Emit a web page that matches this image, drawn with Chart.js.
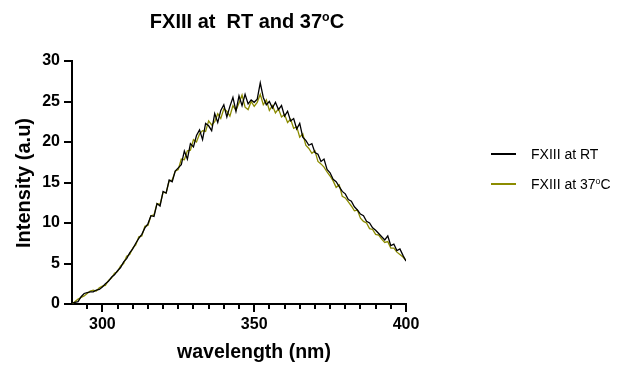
<!DOCTYPE html>
<html><head><meta charset="utf-8">
<script src="https://cdn.jsdelivr.net/npm/chart.js@4/dist/chart.umd.min.js"></script>
<style>
html,body{margin:0;padding:0;background:#fff;}
#wrap{position:relative;width:625px;height:368px;overflow:hidden;font-family:"Liberation Sans",Arial,sans-serif;color:#000;}
canvas{position:absolute;left:0;top:0;}
.t{position:absolute;white-space:nowrap;line-height:1;color:#000;}
.b{font-weight:bold;}
sup{font-size:0.62em;vertical-align:0.55em;line-height:0;}
.ln{position:absolute;height:1.5px;width:25px;}
</style></head><body>
<div id="wrap">
<canvas id="c" width="625" height="368"></canvas>
<div class="t b" id="title" style="font-size:20px;left:247px;top:11px;transform:translateX(-50%);">FXIII at&nbsp; RT and 37<sup>o</sup>C</div>
<div class="t b" id="xt" style="font-size:19.5px;left:254px;top:342px;transform:translateX(-50%);">wavelength (nm)</div>
<div class="t b" id="yt" style="font-size:20px;left:23px;top:183px;transform:translate(-50%,-50%) rotate(-90deg);">Intensity (a.u)</div>
<div class="ln" id="l1" style="left:491px;top:153px;background:#000;"></div>
<div class="t" id="lt1" style="font-size:14px;left:531px;top:147px;">FXIII at RT</div>
<div class="ln" id="l2" style="left:491px;top:183px;background:#8c8c00;"></div>
<div class="t" id="lt2" style="font-size:14px;left:531px;top:177px;">FXIII at 37<sup>o</sup>C</div>
</div>
<script>
// wavelengths 290..400 nm, 1 nm step
const wavelengthStart = 290;
const wavelengthEnd = 400;
const wavelengths = [];
for (let w = wavelengthStart; w <= wavelengthEnd; w++) wavelengths.push(w);

const seriesNames = ["FXIII at RT", "FXIII at 37\u00B0C"];

const intensityRT = [
 0.1,0.2,0.3,0.9,1.3,1.4,1.5,1.5,1.7,1.8,
 2.1,2.5,2.8,3.3,3.6,4.1,4.5,5.2,5.6,6.3,
 6.8,7.5,8.1,8.6,9.4,9.9,10.9,10.8,12.4,12.1,
 13.9,13.7,15.3,15.1,16.4,16.8,17.2,18.9,17.9,19.8,
 19.4,20.8,21.5,20.3,22.3,22.0,21.4,23.5,22.4,23.9,
 24.6,23.1,24.4,25.5,23.8,25.7,24.5,25.9,24.7,25.2,
 24.9,25.3,27.3,25.5,24.6,25.0,24.2,24.9,24.0,24.5,
 23.2,23.8,22.6,22.9,21.6,22.3,20.6,20.2,19.6,19.8,
 18.7,18.5,17.6,17.9,16.6,16.2,15.4,15.1,14.5,13.9,
 13.6,12.9,12.7,12.0,11.6,11.1,10.9,10.2,10.0,9.4,
 9.1,8.7,8.3,7.9,8.4,7.2,7.4,6.6,6.8,6.0,
 5.3
];

const intensity37 = [
 0.0,0.3,0.6,0.8,1.0,1.3,1.6,1.7,1.6,2.0,
 2.2,2.3,2.9,3.2,3.8,4.0,4.7,5.0,5.9,6.1,
 6.9,7.3,8.3,8.4,9.6,9.7,10.9,11.0,12.4,12.3,
 13.8,13.7,15.2,15.3,16.4,16.6,17.9,17.8,18.9,19.0,
 20.3,20.0,21.0,21.4,21.3,22.6,22.1,22.5,23.5,22.9,
 24.1,23.8,23.2,24.5,23.9,24.8,25.8,24.3,24.0,25.0,
 24.4,24.9,25.9,24.6,25.2,23.9,24.5,23.6,24.1,23.1,
 23.4,22.4,22.8,21.7,21.9,20.6,21.0,19.6,19.2,18.6,
 18.9,17.6,17.3,16.9,16.3,15.8,15.2,14.4,14.7,13.3,
 13.1,12.6,12.1,11.5,11.6,10.6,10.2,10.0,9.3,9.2,
 8.6,8.5,8.0,7.6,7.7,6.9,6.9,6.4,6.1,5.8,
 5.4
];

const xMajorTicks = [300, 350, 400];
const xMinorStep = 5;
const yTicks = [0, 5, 10, 15, 20, 25, 30];

const toPoints = arr => wavelengths.map((w, i) => ({x: w, y: arr[i]}));

const minorTicks = {
  id: 'minorTicks',
  afterDraw(chart) {
    const xs = chart.scales.x;
    const ctx = chart.ctx;
    ctx.save();
    ctx.strokeStyle = '#000';
    ctx.lineWidth = 2;
    for (let v = wavelengthStart + xMinorStep; v < wavelengthEnd; v += xMinorStep) {
      if (xMajorTicks.includes(v)) continue;
      const px = Math.round(xs.getPixelForValue(v));
      ctx.beginPath();
      ctx.moveTo(px, xs.top);
      ctx.lineTo(px, xs.top + 5);
      ctx.stroke();
    }
    ctx.restore();
  }
};

const tickFont = {family: '"Liberation Sans", Arial, sans-serif', size: 16, weight: 'bold'};

new Chart(document.getElementById('c'), {
  type: 'line',
  data: {
    datasets: [
      {label: seriesNames[0], data: toPoints(intensityRT), borderColor: '#000000', borderWidth: 1.3, pointRadius: 0, tension: 0, fill: false},
      {label: seriesNames[1], data: toPoints(intensity37), borderColor: '#8c8c00', borderWidth: 1.3, pointRadius: 0, tension: 0, fill: false}
    ]
  },
  options: {
    responsive: false,
    animation: false,
    layout: {padding: {top: 61, right: 219, left: 0, bottom: 0}},
    plugins: {legend: {display: false}, title: {display: false}, tooltip: {enabled: false}},
    scales: {
      x: {
        type: 'linear', min: wavelengthStart, max: wavelengthEnd,
        afterBuildTicks: s => { s.ticks = xMajorTicks.map(v => ({value: v})); },
        afterFit: s => { s.height = 64; },
        ticks: {font: tickFont, color: '#000', padding: 3, maxRotation: 0, autoSkip: false},
        grid: {display: true, drawOnChartArea: false, drawTicks: true, tickLength: 8, color: '#000', lineWidth: 2},
        border: {display: true, color: '#000', width: 2}
      },
      y: {
        type: 'linear', min: 0, max: 30,
        afterBuildTicks: s => { s.ticks = yTicks.map(v => ({value: v})); },
        afterFit: s => { s.width = 72; },
        ticks: {font: tickFont, color: '#000', padding: 4},
        grid: {display: true, drawOnChartArea: false, drawTicks: true, tickLength: 8, color: '#000', lineWidth: 2},
        border: {display: true, color: '#000', width: 2}
      }
    }
  },
  plugins: [minorTicks]
});
</script>
</body></html>
